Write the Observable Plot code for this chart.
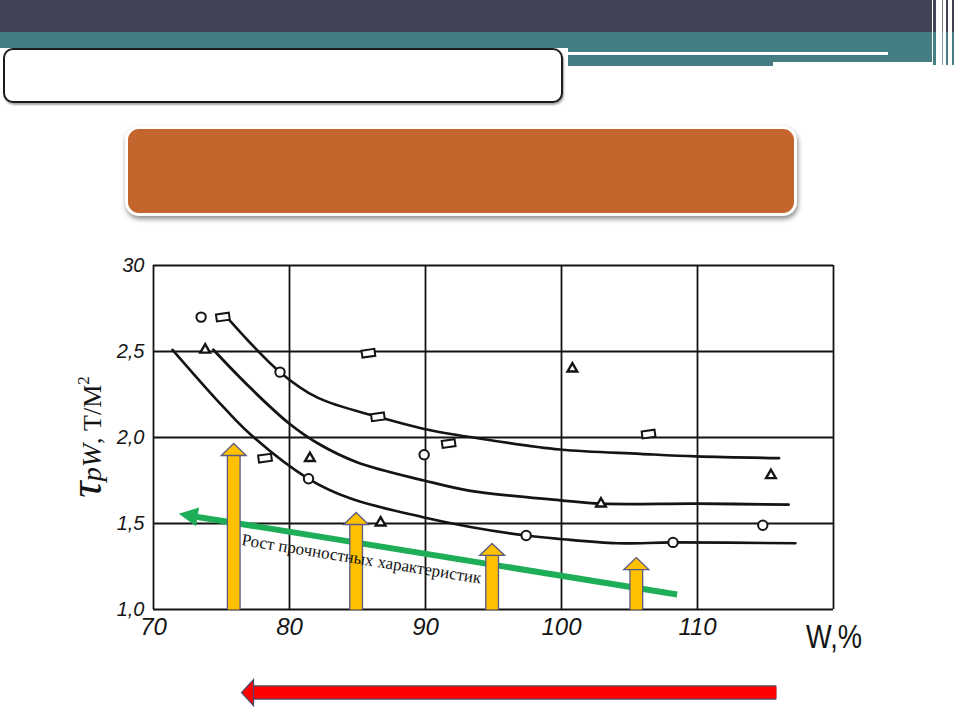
<!DOCTYPE html>
<html lang="ru">
<head>
<meta charset="utf-8">
<script src="https://cdn.jsdelivr.net/npm/d3@7"></script>
<script src="https://cdn.jsdelivr.net/npm/@observablehq/plot@0.6"></script>
<style>
  html, body { margin: 0; padding: 0; background: #ffffff; }
  #slide { position: relative; width: 960px; height: 708px; overflow: hidden; background: #ffffff; }
  .deco { position: absolute; }
  .band-dark { left: 0; top: 0; width: 932px; height: 32px; background: #404356; }
  .band-teal { left: 0; top: 32px; width: 932px; height: 16px; background: #447e83; }
  .band-teal2 { left: 568px; top: 48px; width: 364px; height: 14px; background: #447e83; }
  .band-teal3 { left: 568px; top: 62px; width: 205px; height: 4px; background: #447e83; }
  .band-line { left: 568px; top: 52px; width: 320px; height: 3px; background: #ffffff; }
  .vl { top: 0; height: 65px; background: linear-gradient(#404356 0 32px, #447e83 32px 100%); }
  .title-box { left: 3px; top: 48px; width: 556px; height: 51px; border: 2px solid #1c1c1c; border-radius: 10px; background: #ffffff; box-shadow: 1px 2px 2px rgba(0,0,0,0.35); }
  .orange-box { left: 125px; top: 126px; width: 666px; height: 84px; background: #c4652d; border: 3px solid #ffffff; border-radius: 14px; box-shadow: 1px 3px 5px rgba(0,0,0,0.45); }
  #chart { position: absolute; left: 0; top: 0; }
</style>
</head>
<body>
<div id="slide">
  <div class="deco band-dark"></div>
  <div class="deco band-teal"></div>
  <div class="deco band-teal2"></div>
  <div class="deco band-teal3"></div>
  <div class="deco band-line"></div>
  <div class="deco vl" style="left:933px;width:3px;"></div>
  <div class="deco vl" style="left:942px;width:1px;opacity:0.7;"></div>
  <div class="deco vl" style="left:946px;width:2px;"></div>
  <div class="deco vl" style="left:952px;width:2px;"></div>
  <div class="deco title-box"></div>
  <div class="deco orange-box"></div>
  <div id="chart"></div>
</div>
<script>
// ---------------- data ----------------
const xTicks = [70, 80, 90, 100, 110, 120];
const xTickLabels = ["70", "80", "90", "100", "110", ""];
const yTicks = [1.0, 1.5, 2.0, 2.5, 3.0];
const yTickLabels = ["1,0", "1,5", "2,0", "2,5", "30"];

// fitted curves (W, %  ->  tau, t/m2)
const curveSquaresW   = [75.5, 79.3, 82.1, 86.5, 89.9, 93.5, 99.9, 105.8, 109.9, 116.0];
const curveSquaresTau = [2.69, 2.38, 2.23, 2.12, 2.05, 2.00, 1.93, 1.905, 1.89, 1.88];
const curveTrianglesW   = [74.4, 77.1, 80.0, 82.1, 85.0, 89.9, 93.3, 99.9, 102.9, 109.9, 116.7];
const curveTrianglesTau = [2.51, 2.29, 2.08, 1.965, 1.855, 1.75, 1.69, 1.635, 1.615, 1.615, 1.61];
const curveCirclesW   = [71.4, 74.7, 77.1, 81.4, 84.5, 89.9, 93.3, 97.4, 99.9, 104.1, 108.2, 117.2];
const curveCirclesTau = [2.51, 2.215, 2.02, 1.76, 1.645, 1.535, 1.48, 1.43, 1.41, 1.385, 1.39, 1.385];

// measured points
const circlesW     = [73.5, 79.3, 81.4, 89.9, 97.4, 108.2, 114.8];
const circlesTau   = [2.70, 2.38, 1.76, 1.90, 1.43, 1.39, 1.49];
const squaresW     = [75.1, 85.8, 86.5, 78.2, 91.7, 106.4];
const squaresTau   = [2.70, 2.49, 2.12, 1.88, 1.965, 2.02];
const trianglesW   = [73.8, 81.5, 86.7, 100.8, 102.9, 115.4];
const trianglesTau = [2.51, 1.88, 1.505, 2.40, 1.615, 1.78];

// annotations
const goldArrowW   = [75.9, 84.9, 94.9, 105.5];
const goldArrowTip = [1.965, 1.564, 1.384, 1.302];
const greenArrowFrom = [108.5, 1.087];
const greenArrowTo   = [71.86, 1.556];
const redArrowFrom = [115.8, 0.517];
const redArrowTo   = [76.47, 0.517];
const arrowText = "Рост прочностных характеристик";
const arrowTextAt = [85.3, 1.294];

// ---------------- layout ----------------
const W = 960, H = 708, mL = 153, mR = 127, mT = 265, mB = 99;
const xDomain = [70, 120], yDomain = [1, 3];
const pxX = (W - mL - mR) / (xDomain[1] - xDomain[0]);
const pxY = (H - mT - mB) / (yDomain[1] - yDomain[0]);

const ink = "#141414";
const gold = "#ffc000", goldEdge = "#5a5a86";
const green = "#1fae58";
const red = "#ff0000", redEdge = "#4a4a6e";

const zipXY = (xs, ys) => xs.map((w, i) => ({w, tau: ys[i]}));
const curveSquares = zipXY(curveSquaresW, curveSquaresTau);
const curveTriangles = zipXY(curveTrianglesW, curveTrianglesTau);
const curveCircles = zipXY(curveCirclesW, curveCirclesTau);
const circles = zipXY(circlesW, circlesTau);
const squares = zipXY(squaresW, squaresTau);
const triangles = zipXY(trianglesW, trianglesTau);
const goldArrows = goldArrowW.map((w, i) => ({w, base: yDomain[0], tip: goldArrowTip[i]}));
const greenArrow = [{x1: greenArrowFrom[0], y1: greenArrowFrom[1], x2: greenArrowTo[0], y2: greenArrowTo[1]}];
const redArrow = [{x1: redArrowFrom[0], y1: redArrowFrom[1], x2: redArrowTo[0], y2: redArrowTo[1]}];

// pixel-space direction of the green arrow
const gdx = (greenArrowTo[0] - greenArrowFrom[0]) * pxX;
const gdy = -(greenArrowTo[1] - greenArrowFrom[1]) * pxY;
const greenAngle = Math.atan2(gdy, gdx);
const textRotate = Math.atan2(-gdy, -gdx) * 180 / Math.PI;

function blockHead(angle, len, wid) {
  return {
    draw(ctx) {
      const c = Math.cos(angle), s = Math.sin(angle);
      const bx = -len * c, by = -len * s, nx = -s * wid / 2, ny = c * wid / 2;
      ctx.moveTo(0, 0);
      ctx.lineTo(bx + nx, by + ny);
      ctx.lineTo(bx - nx, by - ny);
      ctx.closePath();
    }
  };
}
const tiltedRect = {
  draw(ctx) {
    const a = -8 * Math.PI / 180, c = Math.cos(a), s = Math.sin(a);
    const pts = [[-6.5, -3.5], [6.5, -3.5], [6.5, 3.5], [-6.5, 3.5]].map(([x, y]) => [x * c - y * s, x * s + y * c]);
    ctx.moveTo(pts[0][0], pts[0][1]);
    for (let i = 1; i < pts.length; i++) ctx.lineTo(pts[i][0], pts[i][1]);
    ctx.closePath();
  }
};

const tickFont = "Liberation Sans, Arial, sans-serif";

const plot = Plot.plot({
  width: W, height: H,
  marginLeft: mL, marginRight: mR, marginTop: mT, marginBottom: mB,
  x: {domain: xDomain},
  y: {domain: yDomain},
  style: {background: "transparent", overflow: "visible"},
  marks: [
    Plot.ruleX(xTicks, {stroke: ink, strokeWidth: 1.8}),
    Plot.ruleY(yTicks, {stroke: ink, strokeWidth: 1.8}),
    Plot.axisX(xTicks, {tickSize: 0, tickPadding: 8, tickFormat: d => xTickLabels[xTicks.indexOf(d)],
      fontSize: 24, fontStyle: "italic", fontFamily: tickFont, fill: ink, label: null}),
    Plot.axisY(yTicks, {tickSize: 0, tickPadding: 9, tickFormat: d => yTickLabels[yTicks.indexOf(d)],
      fontSize: 20, fontStyle: "italic", fontFamily: tickFont, fill: ink, label: null}),
    Plot.line(curveSquares, {x: "w", y: "tau", curve: "catmull-rom", stroke: ink, strokeWidth: 2.6}),
    Plot.line(curveTriangles, {x: "w", y: "tau", curve: "catmull-rom", stroke: ink, strokeWidth: 2.8}),
    Plot.line(curveCircles, {x: "w", y: "tau", curve: "catmull-rom", stroke: ink, strokeWidth: 2.6}),
    Plot.dot(circles, {x: "w", y: "tau", r: 4.7, stroke: ink, strokeWidth: 2, fill: "#ffffff"}),
    Plot.dot(squares, {x: "w", y: "tau", symbol: tiltedRect, stroke: ink, strokeWidth: 2, fill: "#ffffff"}),
    Plot.dot(triangles, {x: "w", y: "tau", symbol: "triangle", r: 3.6, stroke: ink, strokeWidth: 2.4, fill: "#ffffff"}),
    // green arrow
    Plot.arrow(greenArrow, {x1: "x1", y1: "y1", x2: "x2", y2: "y2", stroke: green, strokeWidth: 6,
      headLength: 0, insetEnd: 16, strokeLinecap: "butt"}),
    Plot.dot(greenArrow, {x: "x2", y: "y2", symbol: blockHead(greenAngle, 19, 19), fill: green, stroke: "none"}),
    // gold arrows
    Plot.arrow(goldArrows, {x1: "w", y1: "base", x2: "w", y2: "tip", stroke: goldEdge, strokeWidth: 14,
      headLength: 0, insetEnd: 11, strokeLinecap: "butt"}),
    Plot.arrow(goldArrows, {x1: "w", y1: "base", x2: "w", y2: "tip", stroke: gold, strokeWidth: 11.4,
      headLength: 0, insetEnd: 10, strokeLinecap: "butt"}),
    Plot.dot(goldArrows, {x: "w", y: "tip", symbol: blockHead(-Math.PI / 2, 12, 25), fill: gold, stroke: goldEdge, strokeWidth: 1.3}),
    // red arrow
    Plot.arrow(redArrow, {x1: "x1", y1: "y1", x2: "x2", y2: "y2", stroke: redEdge, strokeWidth: 14.5,
      headLength: 0, insetEnd: 11, strokeLinecap: "butt"}),
    Plot.arrow(redArrow, {x1: "x1", y1: "y1", x2: "x2", y2: "y2", stroke: red, strokeWidth: 12,
      headLength: 0, insetEnd: 10, strokeLinecap: "butt"}),
    Plot.dot(redArrow, {x: "x2", y: "y2", symbol: blockHead(Math.PI, 12, 26), fill: red, stroke: redEdge, strokeWidth: 1.3}),
    // caption along green arrow
    Plot.text([{w: arrowTextAt[0], tau: arrowTextAt[1], label: arrowText}], {x: "w", y: "tau", text: "label",
      rotate: textRotate, fontSize: 17, fontFamily: "Liberation Serif, Times New Roman, serif", fill: ink, textAnchor: "middle"})
  ]
});

document.getElementById("chart").appendChild(plot);

// axis titles
const svg = d3.select(plot);
const yl = svg.append("text")
  .attr("transform", "translate(101,437) rotate(-90)")
  .attr("text-anchor", "middle")
  .attr("fill", ink)
  .attr("font-family", "Liberation Serif, Times New Roman, serif");
yl.append("tspan").attr("font-size", 46).attr("font-style", "italic").text("τ");
yl.append("tspan").attr("font-size", 28).attr("font-style", "italic").text("pW");
yl.append("tspan").attr("font-size", 26).text(", Т/М");
yl.append("tspan").attr("font-size", 17).attr("dy", -12).text("2");

svg.append("text")
  .attr("x", 806).attr("y", 648)
  .attr("text-anchor", "start")
  .attr("fill", ink)
  .attr("font-family", tickFont)
  .attr("font-size", 34)
  .attr("textLength", 56)
  .attr("lengthAdjust", "spacingAndGlyphs")
  .text("W,%");
</script>
</body>
</html>
